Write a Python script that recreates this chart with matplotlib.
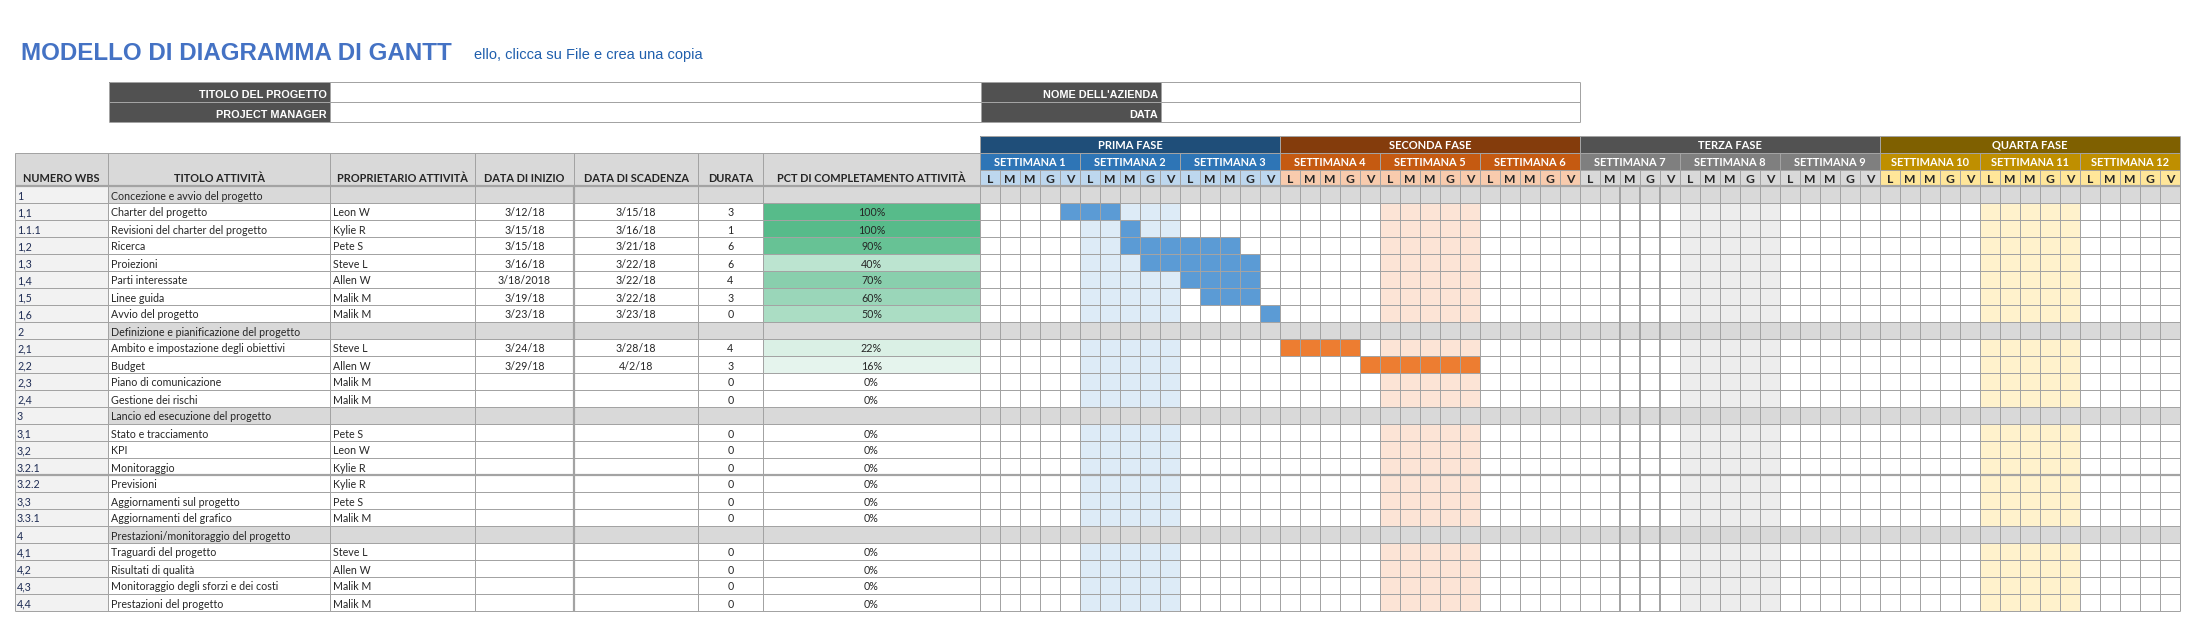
import matplotlib
matplotlib.use("Agg")
import matplotlib.pyplot as plt
from matplotlib.patches import Rectangle
from matplotlib.colors import LinearSegmentedColormap
from matplotlib import font_manager as fm

# ------------------------------------------------------------------ data
title_text = "MODELLO DI DIAGRAMMA DI GANTT"
subtitle_text = "ello, clicca su File e crea una copia"
info_left = ["TITOLO DEL PROGETTO", "PROJECT MANAGER"]
info_right = ["NOME DELL'AZIENDA", "DATA"]
col_headers = ["NUMERO WBS", "TITOLO ATTIVITÀ", "PROPRIETARIO ATTIVITÀ",
               "DATA DI INIZIO", "DATA DI SCADENZA", "DURATA",
               "PCT DI COMPLETAMENTO ATTIVITÀ"]
phases = ["PRIMA FASE", "SECONDA FASE", "TERZA FASE", "QUARTA FASE"]
weeks = ["SETTIMANA 1", "SETTIMANA 2", "SETTIMANA 3", "SETTIMANA 4",
         "SETTIMANA 5", "SETTIMANA 6", "SETTIMANA 7", "SETTIMANA 8",
         "SETTIMANA 9", "SETTIMANA 10", "SETTIMANA 11", "SETTIMANA 12"]
day_letters = ["L", "M", "M", "G", "V"]

wbs = ["1", "1,1", "1.1.1", "1,2", "1,3", "1,4", "1,5", "1,6",
       "2", "2,1", "2,2", "2,3", "2,4",
       "3", "3,1", "3,2", "3.2.1", "3.2.2", "3,3", "3.3.1",
       "4", "4,1", "4,2", "4,3", "4,4"]
is_section = [True, False, False, False, False, False, False, False,
              True, False, False, False, False,
              True, False, False, False, False, False, False,
              True, False, False, False, False]
titles = ["Concezione e avvio del progetto", "Charter del progetto",
          "Revisioni del charter del progetto", "Ricerca", "Proiezioni",
          "Parti interessate", "Linee guida", "Avvio del progetto",
          "Definizione e pianificazione del progetto",
          "Ambito e impostazione degli obiettivi", "Budget",
          "Piano di comunicazione", "Gestione dei rischi",
          "Lancio ed esecuzione del progetto", "Stato e tracciamento", "KPI",
          "Monitoraggio", "Previsioni", "Aggiornamenti sul progetto",
          "Aggiornamenti del grafico",
          "Prestazioni/monitoraggio del progetto", "Traguardi del progetto",
          "Risultati di qualità", "Monitoraggio degli sforzi e dei costi",
          "Prestazioni del progetto"]
owners = ["", "Leon W", "Kylie R", "Pete S", "Steve L", "Allen W", "Malik M",
          "Malik M", "", "Steve L", "Allen W", "Malik M", "Malik M",
          "", "Pete S", "Leon W", "Kylie R", "Kylie R", "Pete S", "Malik M",
          "", "Steve L", "Allen W", "Malik M", "Malik M"]
start_dates = ["", "3/12/18", "3/15/18", "3/15/18", "3/16/18", "3/18/2018",
               "3/19/18", "3/23/18", "", "3/24/18", "3/29/18", "", "",
               "", "", "", "", "", "", "", "", "", "", "", ""]
due_dates = ["", "3/15/18", "3/16/18", "3/21/18", "3/22/18", "3/22/18",
             "3/22/18", "3/23/18", "", "3/28/18", "4/2/18", "", "",
             "", "", "", "", "", "", "", "", "", "", "", ""]
durations = [None, 3, 1, 6, 6, 4, 3, 0, None, 4, 3, 0, 0,
             None, 0, 0, 0, 0, 0, 0, None, 0, 0, 0, 0]
pct_done = [None, 100, 100, 90, 40, 70, 60, 50, None, 22, 16, 0, 0,
            None, 0, 0, 0, 0, 0, 0, None, 0, 0, 0, 0]
# gantt bars: first working-day index (0 = week 1 Monday) and number of cells
bar_start = [None, 4, 7, 7, 8, 10, 11, 14, None, 15, 19, None, None,
             None, None, None, None, None, None, None,
             None, None, None, None, None]
bar_cells = [0, 3, 1, 6, 6, 4, 3, 1, 0, 4, 6, 0, 0,
             0, 0, 0, 0, 0, 0, 0, 0, 0, 0, 0, 0]
bar_phase = [0, 0, 0, 0, 0, 0, 0, 0, 1, 1, 1, 1, 1,
             2, 2, 2, 2, 2, 2, 2, 3, 3, 3, 3, 3]
shaded_weeks = [1, 4, 7, 10]   # middle week of each phase, tinted

# ------------------------------------------------------------------ style
phase_colors = ["#1F4E79", "#843C0C", "#525252", "#7F6000"]
week_colors = ["#2E75B6", "#C55A11", "#7F7F7F", "#BF8F00"]
day_colors = ["#BDD7EE", "#F8CBAD", "#D9D9D9", "#FFE699"]
shade_colors = ["#DDEBF7", "#FCE4D6", "#EDEDED", "#FFF2CC"]
bar_colors = ["#5B9BD5", "#ED7D31", "#7F7F7F", "#BF8F00"]
GRID = "#A3A3A3"
HEAD = "#D9D9D9"
WBS_BG = "#F2F2F2"
DARK = "#515151"
TXT = "#262626"
WBS_TXT = "#1F2D55"
pct_cmap = LinearSegmentedColormap.from_list("pct", ["#FFFFFF", "#57BB8A"])

avail = {f.name for f in fm.fontManager.ttflist}
NARROW = "Liberation Sans Narrow" if "Liberation Sans Narrow" in avail else "Liberation Sans"
BODY = "Lato" if "Lato" in avail else "DejaVu Sans"
TITLE_FONT = "Liberation Sans"

# layout (pixels)
W, H = 2196, 626
COLS = [15, 108, 330, 475, 574, 698, 763, 980]
G0, DW = 980, 20
NDAYS = 60
ROW_H = 17
TAB_TOP = 153
ROW0 = 186
PH_TOP, WK_TOP, DY_TOP = 136, 153, 170
px = 0.72  # 1 pixel in points

fig = plt.figure(figsize=(W / 100, H / 100), dpi=100)
ax = fig.add_axes([0, 0, 1, 1])
ax.set_xlim(0, W)
ax.set_ylim(H, 0)
ax.axis("off")
fig.canvas.draw()
rend = fig.canvas.get_renderer()


def size_for(s, target, family, weight="normal", base=10.0):
    t = ax.text(0, 0, s, fontsize=base, family=family, fontweight=weight)
    w = t.get_window_extent(renderer=rend).width
    t.remove()
    return base * target / w


def rect(x0, y0, x1, y1, fc, z=1):
    ax.add_patch(Rectangle((x0, y0), x1 - x0, y1 - y0, facecolor=fc,
                           edgecolor="none", lw=0, zorder=z))


def hl(y, x0, x1, lw=1.0, c=GRID, z=3):
    ax.plot([x0, x1], [y, y], color=c, lw=lw * px, zorder=z,
            solid_capstyle="butt")


def vl(x, y0, y1, lw=1.0, c=GRID, z=3):
    ax.plot([x, x], [y0, y1], color=c, lw=lw * px, zorder=z,
            solid_capstyle="butt")


fs_title = size_for(title_text, 428, TITLE_FONT, "bold")
fs_sub = size_for(subtitle_text, 227, NARROW)
fs_info = size_for(info_left[0], 128, NARROW, "bold")
fs_head = size_for(col_headers[-1], 190, BODY, "bold")
fs_body = size_for(titles[0], 151, BODY)
fs_week = size_for(weeks[0], 72, BODY, "bold")
fs_phase = size_for(phases[0], 65, BODY, "bold")
fs_day = fs_head * 1.1

# ------------------------------------------------------------------ title
ax.text(21, 60, title_text, fontsize=fs_title, family=TITLE_FONT,
        fontweight="bold", color="#4472C4", va="baseline", ha="left")
ax.text(474, 59, subtitle_text, fontsize=fs_sub, family=NARROW,
        color="#1F5FAD", va="baseline", ha="left")

# ------------------------------------------------------------------ info box
INFO_Y = [82, 102, 122]
for i in range(2):
    y0, y1 = INFO_Y[i], INFO_Y[i + 1]
    rect(109, y0, 330, y1, DARK)
    rect(981, y0, 1161, y1, DARK)
    ax.text(327, y1 - 3.5, info_left[i], fontsize=fs_info, family=NARROW,
            fontweight="bold", color="white", ha="right", va="baseline", zorder=5)
    ax.text(1158, y1 - 3.5, info_right[i], fontsize=fs_info, family=NARROW,
            fontweight="bold", color="white", ha="right", va="baseline", zorder=5)
for y in INFO_Y:
    hl(y, 109, 1580)
for x in [109, 330, 981, 1161, 1580]:
    vl(x, INFO_Y[0], INFO_Y[-1])

# ------------------------------------------------------------------ left table header
nrows = len(wbs)
BOTTOM = ROW0 + nrows * ROW_H
rect(COLS[0], TAB_TOP, COLS[-1], ROW0, HEAD)
for j, h in enumerate(col_headers):
    ax.text((COLS[j] + COLS[j + 1]) / 2, 182, h, fontsize=fs_head, family=BODY,
            fontweight="bold", color=TXT, ha="center", va="baseline", zorder=5)

# ------------------------------------------------------------------ gantt header
for p in range(4):
    x0 = G0 + p * 15 * DW
    rect(x0, PH_TOP, x0 + 15 * DW, WK_TOP, phase_colors[p])
    ax.text(x0 + 7.5 * DW, 149, phases[p], fontsize=fs_phase, family=BODY,
            fontweight="bold", color="white", ha="center", va="baseline", zorder=5)
for w in range(12):
    p = w // 3
    x0 = G0 + w * 5 * DW
    rect(x0, WK_TOP, x0 + 5 * DW, DY_TOP, week_colors[p])
    ax.text(x0 + 2.5 * DW, 166.5, weeks[w], fontsize=fs_week, family=BODY,
            fontweight="bold", color="white", ha="center", va="baseline", zorder=5)
    rect(x0, DY_TOP, x0 + 5 * DW, ROW0, day_colors[p])
    for d in range(5):
        ax.text(x0 + (d + 0.5) * DW, 183, day_letters[d], fontsize=fs_day,
                family=BODY, fontweight="bold", color=TXT, ha="center",
                va="baseline", zorder=5)

# ------------------------------------------------------------------ rows
for i in range(nrows):
    y0 = ROW0 + i * ROW_H
    y1 = y0 + ROW_H
    yb = y0 + 13.5
    rect(COLS[0], y0, COLS[1], y1, WBS_BG)
    if is_section[i]:
        rect(COLS[1], y0, COLS[-1], y1, HEAD)
        rect(G0, y0, G0 + NDAYS * DW, y1, HEAD)
    else:
        for p, w in enumerate(shaded_weeks):
            rect(G0 + w * 5 * DW, y0, G0 + (w + 1) * 5 * DW, y1, shade_colors[p])
        if pct_done[i] is not None and pct_done[i] > 0:
            rect(COLS[6], y0, COLS[7], y1, pct_cmap(pct_done[i] / 100))
        if bar_start[i] is not None:
            rect(G0 + bar_start[i] * DW, y0,
                 G0 + (bar_start[i] + bar_cells[i]) * DW, y1,
                 bar_colors[bar_phase[i]], z=2)
    kw = dict(fontsize=fs_body, family=BODY, va="baseline", zorder=5)
    ax.text(COLS[0] + 2, yb, wbs[i], color=WBS_TXT, ha="left", **kw)
    ax.text(COLS[1] + 3, yb, titles[i], color=TXT, ha="left", **kw)
    ax.text(COLS[2] + 3, yb, owners[i], color=TXT, ha="left", **kw)
    ax.text((COLS[3] + COLS[4]) / 2, yb, start_dates[i], color=TXT, ha="center", **kw)
    ax.text((COLS[4] + COLS[5]) / 2, yb, due_dates[i], color=TXT, ha="center", **kw)
    if durations[i] is not None:
        ax.text((COLS[5] + COLS[6]) / 2, yb, str(durations[i]), color=TXT,
                ha="center", **kw)
    if pct_done[i] is not None:
        ax.text((COLS[6] + COLS[7]) / 2, yb, f"{pct_done[i]}%", color=TXT,
                ha="center", **kw)

# ------------------------------------------------------------------ grid
GEND = G0 + NDAYS * DW
hl(TAB_TOP, COLS[0], COLS[-1])
for i in range(nrows + 1):
    y = ROW0 + i * ROW_H
    hl(y, COLS[0], GEND)
hl(ROW0, COLS[0], GEND, lw=2.2)
hl(ROW0 + 17 * ROW_H, COLS[0], GEND, lw=2.2)
for x in COLS:
    vl(x, TAB_TOP, BOTTOM)
vl(COLS[4], ROW0, BOTTOM, lw=2.2)
hl(PH_TOP, G0, GEND)
hl(WK_TOP, G0, GEND)
hl(DY_TOP, G0, GEND)
for d in range(NDAYS + 1):
    x = G0 + d * DW
    if d % 15 == 0:
        vl(x, PH_TOP, BOTTOM)
    elif d % 5 == 0:
        vl(x, WK_TOP, BOTTOM)
    else:
        vl(x, DY_TOP, BOTTOM)
for d in [32, 33, 34]:
    vl(G0 + d * DW, ROW0, BOTTOM, lw=2.0)

fig.savefig("out.png", dpi=100, facecolor="white")
